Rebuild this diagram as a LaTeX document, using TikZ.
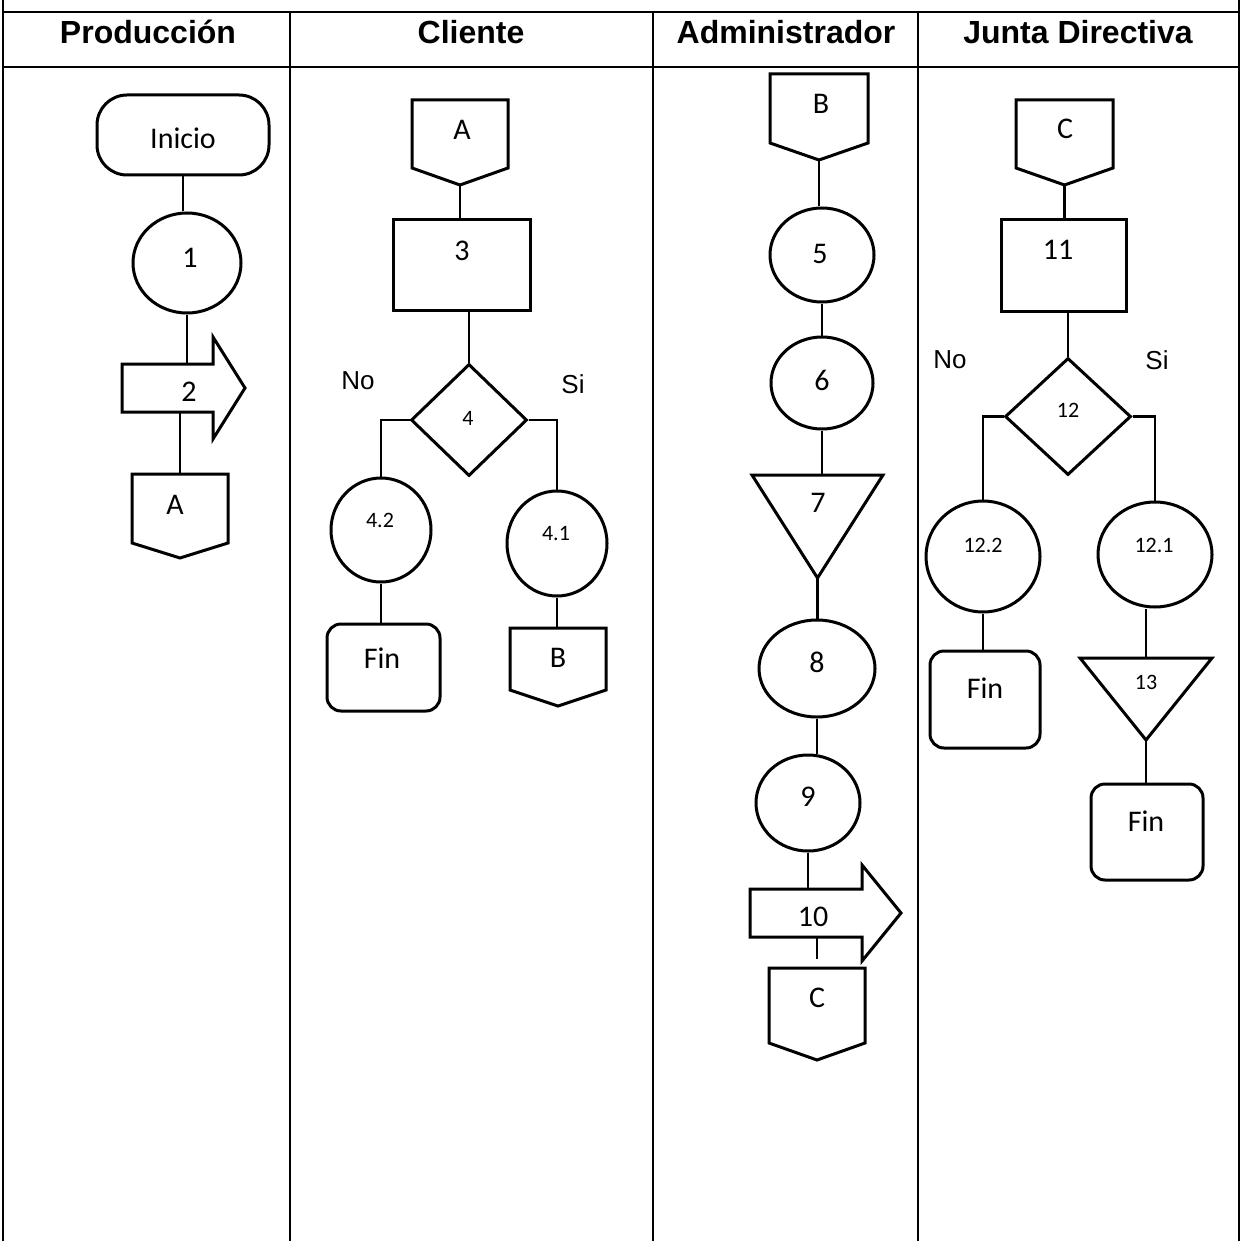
\documentclass[tikz,border=0pt]{standalone}
\usepackage{fontspec}
\setmainfont{Carlito}
\newfontfamily\arialf{Liberation Sans}
\usetikzlibrary{shapes.geometric,calc}

% off-page connector outline drawn on a named frame node
\newcommand\offpg[2]{%
  \draw[shp] (#1.north west) -- (#1.north east) -- ([yshift=#2]#1.south east)
    -- (#1.south) -- ([yshift=#2]#1.south west) -- cycle;}
% block arrow outline on a named body node
\newcommand\blockarrow[3]{%
  \draw[shp] (#1.north west) -- (#1.north east) -- ([yshift=#2]#1.north east)
    -- ($(#1.east)+(#3,0)$) -- ([yshift=-#2]#1.south east) -- (#1.south east)
    -- (#1.south west) -- cycle;}
% inverted triangle outline on a named frame node
\newcommand\invtri[1]{%
  \draw[shp] (#1.north west) -- (#1.north east) -- (#1.south) -- cycle;}

\tikzset{
  lane/.style={line width=2.3pt},
  shp/.style={draw, line width=3pt, line join=miter},
  frame/.style={rectangle, inner sep=0pt, outer sep=0pt},
  circ/.style={shp, ellipse, inner sep=0pt},
  proc/.style={shp, rectangle, inner sep=0pt},
  term/.style={shp, rectangle, inner sep=0pt, rounded corners=14pt},
  dec/.style={shp, diamond, inner sep=0pt},
  conn/.style={line width=2.6pt},
  head/.style={inner sep=0pt, font=\arialf\bfseries\fontsize{32}{34}\selectfont},
  lbl/.style={inner sep=0pt, font=\fontsize{30}{32}\selectfont},
  slbl/.style={inner sep=0pt, font=\fontsize{22}{24}\selectfont},
  yn/.style={inner sep=0pt, font=\arialf\fontsize{26}{28}\selectfont},
}

\begin{document}
\begin{tikzpicture}[x=1pt,y=-1pt]
\useasboundingbox (0,0) rectangle (1246,1241);

% ---------- swimlane table ----------
\draw[lane] (3,0) -- (3,1241);
\draw[lane] (1239,0) -- (1239,1241);
\draw[lane] (290,12) -- (290,1241);
\draw[lane] (653,12) -- (653,1241);
\draw[lane] (918,12) -- (918,1241);
\draw[lane] (3,12) -- (1239,12);
\draw[lane] (3,67) -- (1239,67);

\node[head] (hProd) at (148,32) {Producción};
\node[head] (hCli)  at (471,32) {Cliente};
\node[head] (hAdm)  at (786,32) {Administrador};
\node[head] (hJun)  at (1078,32) {Junta Directiva};

% ---------- Produccion ----------
\node[term, rounded corners=30pt, minimum width=172pt, minimum height=80pt] (ini) at (183,135) {};
\node[circ, minimum width=108pt, minimum height=100pt] (c1) at (187,263) {};
\node[frame, minimum width=91pt, minimum height=48pt] (arr2) at (167.5,388) {};
\blockarrow{arr2}{27pt}{32}
\node[frame, minimum width=96pt, minimum height=84pt] (oA1) at (180,516) {};
\offpg{oA1}{15pt}

\draw[conn] (ini.south) -- (ini.south |- c1.north);
\draw[conn] (c1.south) -- (c1.south |- arr2.north);
\draw[conn] (arr2.south -| oA1.north) -- (oA1.north);

\node[lbl] (tIni) at (183,138) {Inicio};
\node[lbl] (t1) at (190,258) {1};
\node[lbl] (t2) at (189,392) {2};
\node[lbl] (tA1) at (175,505) {A};

% ---------- Cliente ----------
\node[frame, minimum width=96pt, minimum height=85pt] (oA2) at (460,142.5) {};
\offpg{oA2}{17pt}
\node[proc, minimum width=137pt, minimum height=90pt] (p3) at (461.5,265) {};
\node[dec, minimum width=116pt, minimum height=112pt] (d4) at (469,420) {};
\node[circ, minimum width=100pt, minimum height=104pt] (c42) at (381,530) {};
\node[term, minimum width=113pt, minimum height=87pt] (fin1) at (383.5,667.5) {};
\node[circ, minimum width=100pt, minimum height=105pt] (c41) at (557,543.5) {};
\node[frame, minimum width=96pt, minimum height=78pt] (oB1) at (558,667) {};
\offpg{oB1}{16pt}

\draw[conn] (oA2.south) -- (oA2.south |- p3.north);
\draw[conn] (p3.south -| d4.north) -- (d4.north);
\draw[conn] (d4.west) -| (c42.north);
\draw[conn] (d4.east) -| (c41.north);
\draw[conn] (c42.south) -- (c42.south |- fin1.north);
\draw[conn] (c41.south) -- (c41.south |- oB1.north);

\node[lbl] (tA2) at (462,130) {A};
\node[lbl] (t3) at (462,251) {3};
\node[slbl] (t4) at (468,418) {4};
\node[yn] (tNo1) at (358,381) {No};
\node[yn] (tSi1) at (573,384) {Si};
\node[slbl] (t42) at (380,520) {4.2};
\node[slbl] (t41) at (556,534) {4.1};
\node[lbl] (tFin1) at (382,658) {Fin};
\node[lbl] (tB1) at (558,658) {B};

% ---------- Administrador ----------
\node[frame, minimum width=98pt, minimum height=86pt] (oB2) at (819,117) {};
\offpg{oB2}{17pt}
\node[circ, minimum width=104pt, minimum height=94pt] (c5) at (822,255) {};
\node[circ, minimum width=102pt, minimum height=92pt] (c6) at (822,383) {};
\node[frame, minimum width=131pt, minimum height=103pt] (tr7) at (817.5,526.5) {};
\invtri{tr7}
\node[circ, minimum width=116pt, minimum height=97pt] (c8) at (817,668.5) {};
\node[circ, minimum width=104pt, minimum height=96pt] (c9) at (808,803) {};
\node[frame, minimum width=112pt, minimum height=48pt] (arr10) at (806,913) {};
\blockarrow{arr10}{24pt}{39}
\node[frame, minimum width=96pt, minimum height=92pt] (oC1) at (817,1014) {};
\offpg{oC1}{17pt}

\draw[conn] (oB2.south) -- (oB2.south |- c5.north);
\draw[conn] (c5.south) -- (c6.north);
\draw[conn] (c6.south) -- (c6.south |- tr7.north);
\draw[conn] (tr7.south) -- (tr7.south |- c8.north);
\draw[conn] (c8.south) -- (c8.south |- c9.north);
\draw[conn] (c9.south) -- (c9.south |- arr10.north);
\draw[conn, shorten >=9pt] (arr10.south -| oC1.north) -- (oC1.north);

\node[lbl] (tB2) at (821,104) {B};
\node[lbl] (t5) at (820,254) {5};
\node[lbl] (t6) at (822,380) {6};
\node[lbl] (t7) at (818,503) {7};
\node[lbl] (t8) at (817,662) {8};
\node[lbl] (t9) at (808,797) {9};
\node[lbl] (t10) at (813,917) {10};
\node[lbl] (tC1) at (817,998) {C};

% ---------- Junta Directiva ----------
\node[frame, minimum width=97pt, minimum height=85pt] (oC2) at (1064.5,142.5) {};
\offpg{oC2}{17pt}
\node[proc, minimum width=125pt, minimum height=91pt] (p11) at (1063.5,265.5) {};
\node[dec, minimum width=126pt, minimum height=117pt] (d12) at (1068,416.5) {};
\node[circ, minimum width=114pt, minimum height=111pt] (c122) at (983,556.5) {};
\node[term, minimum width=110pt, minimum height=97pt] (fin2) at (985,699.5) {};
\node[circ, minimum width=114pt, minimum height=105pt] (c121) at (1155,554.5) {};
\node[frame, minimum width=132pt, minimum height=82pt] (tr13) at (1146,699) {};
\invtri{tr13}
\node[term, minimum width=112pt, minimum height=96pt] (fin3) at (1147,832) {};

\draw[conn] (oC2.south) -- (oC2.south |- p11.north);
\draw[conn] (d12.north |- p11.south) -- (d12.north);
\draw[conn] (d12.west) -| (c122.north);
\draw[conn] (d12.east) -| (c121.north);
\draw[conn] (c122.south) -- (c122.south |- fin2.north);
\draw[conn] (tr13.north |- c121.south) -- (tr13.north);
\draw[conn] (tr13.south) -- (tr13.south |- fin3.north);

\node[lbl] (tC2) at (1065,129) {C};
\node[lbl] (t11) at (1058,250) {11};
\node[slbl] (t12) at (1068,410) {12};
\node[yn] (tNo2) at (950,360) {No};
\node[yn] (tSi2) at (1157,360) {Si};
\node[slbl] (t122) at (983,545) {12.2};
\node[slbl] (t121) at (1154,545) {12.1};
\node[lbl] (tFin2) at (985,688) {Fin};
\node[slbl] (t13) at (1146,682) {13};
\node[lbl] (tFin3) at (1146,821) {Fin};
\end{tikzpicture}
\end{document}
